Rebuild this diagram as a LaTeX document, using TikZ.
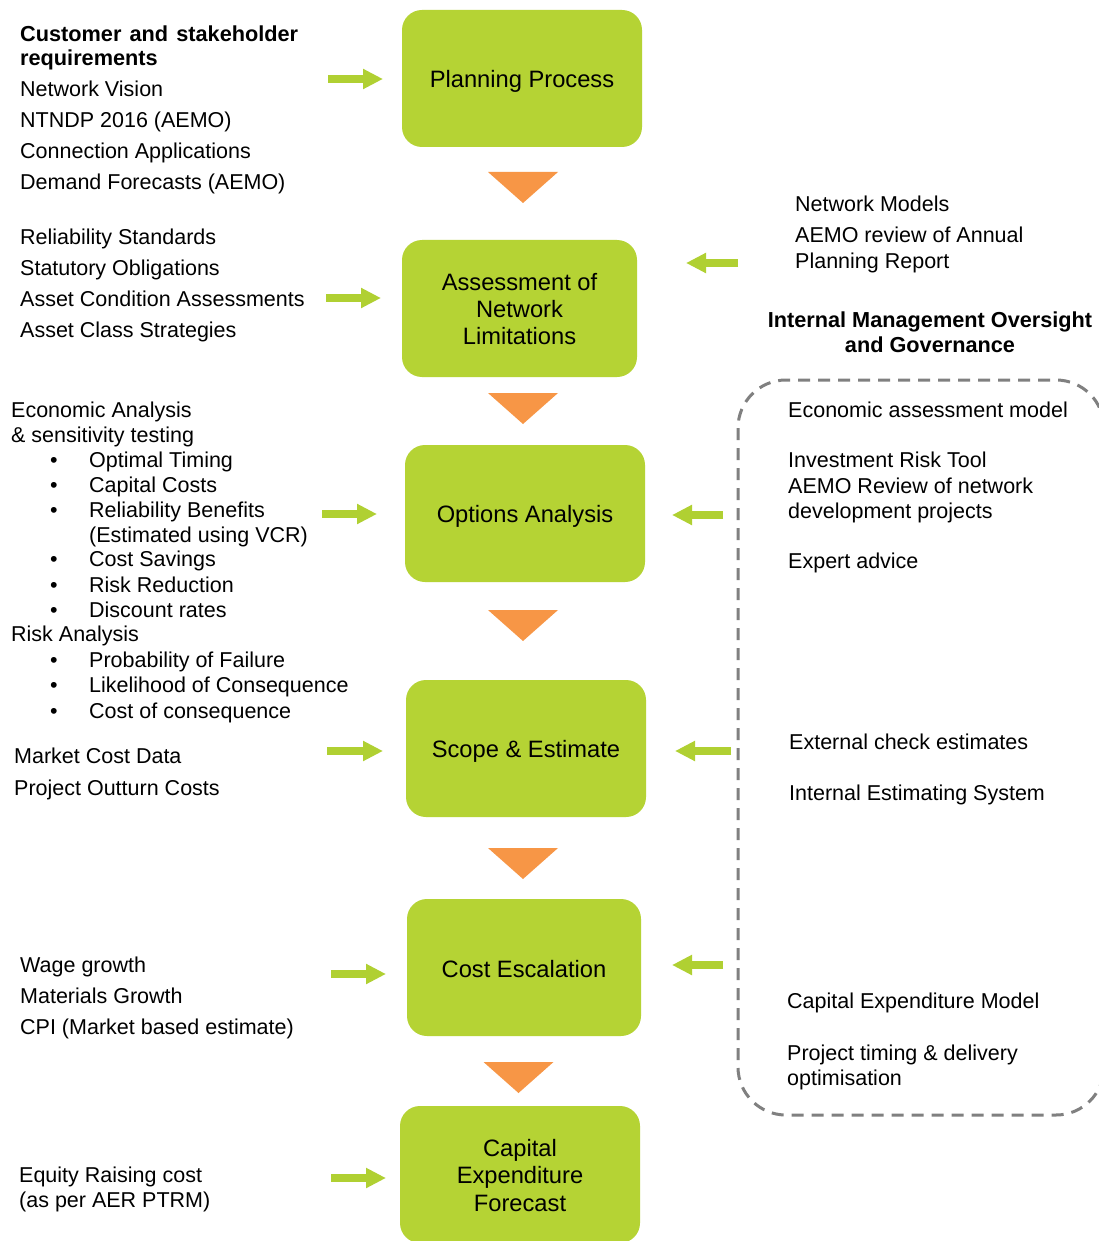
\documentclass[tikz,border=0pt]{standalone}
\usepackage{fontspec}
\setmainfont{Liberation Sans}
\usetikzlibrary{arrows.meta}
\definecolor{boxgreen}{RGB}{181,211,52}
\definecolor{arrgreen}{RGB}{176,208,50}
\definecolor{triorange}{RGB}{247,150,70}
\definecolor{dashgray}{RGB}{128,128,128}
\newcommand{\lowerby}[2]{\raisebox{-#1}[\height][\depth]{#2}}
\begin{document}
\begin{tikzpicture}[x=1pt,y=-1pt,
  lbl/.style={anchor=base west, inner sep=0pt, font=\fontsize{21.5}{25}\selectfont},
  hdr/.style={anchor=base west, inner sep=0pt, font=\fontsize{21.7}{25}\selectfont\bfseries},
  procbox/.style={rounded corners=20pt, fill=boxgreen, minimum height=137pt, align=center, inner sep=0pt, font=\fontsize{23.7}{27.3}\selectfont},
  flowarrow/.style={draw=arrgreen, line width=8pt, -{Triangle[length=20pt 0 1,width=19pt 0 1]}},
  downtri/.style={fill=triorange},
  govbox/.style={draw=dashgray, line width=3pt, dash pattern=on 12pt off 8pt, rounded corners=48pt}
]
\fill[white] (0,0) rectangle (1099,1241);
\useasboundingbox (0,0) rectangle (1099,1241);
\clip (0,0) rectangle (1099,1241);

% process boxes
\node[procbox, minimum width=240pt] (pp) at (522,78.5) {\lowerby{3pt}{Planning Process}};
\node[procbox, minimum width=235pt] (an) at (519.5,308.5) {\lowerby{3.5pt}{\begin{tabular}{@{}c@{}}Assessment of\\Network\\Limitations\end{tabular}}};
\node[procbox, minimum width=240pt] (oa) at (525,513.5) {\lowerby{3pt}{Options Analysis}};
\node[procbox, minimum width=240pt] (se) at (526,748.5) {\lowerby{3pt}{Scope \& Estimate}};
\node[procbox, minimum width=234pt] (ce) at (524,967.5) {\lowerby{2pt}{Cost Escalation}};
\node[procbox, minimum width=240pt] (cf) at (520,1174.5) {\lowerby{4pt}{\begin{tabular}{@{}c@{}}Capital\\Expenditure\\Forecast\end{tabular}}};

% down triangles
\foreach \n/\x/\y in {t1/523/172, t2/523/393, t3/523/610, t4/523/848, t5/518.5/1062}{
  \coordinate (\n) at (\x,\y);
  \fill[downtri] (\n) ++(-35,0) -- ++(70,0) -- ++(-35,31) -- cycle;
}

% governance dashed box
\draw[govbox] (738,380) rectangle (1104,1115);

% input arrows (right)
\coordinate (a1s) at (328,79);  \coordinate (a1e) at (383,79);
\coordinate (a2s) at (326,298); \coordinate (a2e) at (381,298);
\coordinate (a3s) at (322,514); \coordinate (a3e) at (377,514);
\coordinate (a4s) at (327,751); \coordinate (a4e) at (383,751);
\coordinate (a5s) at (331,974); \coordinate (a5e) at (386,974);
\coordinate (a6s) at (331,1178); \coordinate (a6e) at (386,1178);
\foreach \i in {1,...,6}{ \draw[flowarrow] (a\i s) -- (a\i e); }

% input arrows (left)
\coordinate (b1s) at (738,263); \coordinate (b1e) at (686,263);
\coordinate (b2s) at (723,515); \coordinate (b2e) at (672,515);
\coordinate (b3s) at (731,751); \coordinate (b3e) at (675,751);
\coordinate (b4s) at (723,965); \coordinate (b4e) at (672,965);
\foreach \i in {1,...,4}{ \draw[flowarrow] (b\i s) -- (b\i e); }

% left column
\node[hdr] (h1) at (20,42) {\makebox[278pt][s]{Customer and stakeholder}};
\node[hdr] (h2) at (20,66) {requirements};
\node[lbl] (l1) at (20,97) {Network Vision};
\node[lbl] (l2) at (20,128) {NTNDP 2016 (AEMO)};
\node[lbl] (l3) at (20,159) {Connection Applications};
\node[lbl] (l4) at (20,190) {Demand Forecasts (AEMO)};
\node[lbl] (l5) at (20,244) {Reliability Standards};
\node[lbl] (l6) at (20,275) {Statutory Obligations};
\node[lbl] (l7) at (20,306) {Asset Condition Assessments};
\node[lbl] (l8) at (20,337) {Asset Class Strategies};

\node[lbl] (e1) at (11,417) {Economic Analysis};
\node[lbl] (e2) at (11,442) {\& sensitivity testing};
\foreach \n/\y/\t in {e3/467/Optimal Timing, e4/492/Capital Costs, e5/517/Reliability Benefits, e7/566/Cost Savings, e8/592/Risk Reduction, e9/617/Discount rates, r2/667/Probability of Failure, r3/692/Likelihood of Consequence, r4/718/Cost of consequence}{
  \node[lbl] (\n b) at (50,\y) {•};
  \node[lbl] (\n) at (89,\y) {\t};
}
\node[lbl] (e6) at (89,542) {(Estimated using VCR)};
\node[lbl] (r1) at (11,641) {Risk Analysis};

\node[lbl] (m1) at (14,763) {Market Cost Data};
\node[lbl] (m2) at (14,795) {Project Outturn Costs};

\node[lbl] (w1) at (20,972) {Wage growth};
\node[lbl] (w2) at (20,1003) {Materials Growth};
\node[lbl] (w3) at (20,1034) {CPI (Market based estimate)};

\node[lbl] (q1) at (19,1182) {Equity Raising cost};
\node[lbl] (q2) at (19,1207) {(as per AER PTRM)};

% right column
\node[lbl] (n1) at (795,212) {Network Models};
\node[lbl] (n2) at (795,243) {AEMO review of Annual};
\node[lbl] (n3) at (795,268) {Planning Report};
\node[hdr, anchor=base] (g1) at (930,327) {Internal Management Oversight};
\node[hdr, anchor=base] (g2) at (930,352) {and Governance};

\node[lbl] (k1) at (788,417) {Economic assessment model};
\node[lbl] (k2) at (788,467) {Investment Risk Tool};
\node[lbl] (k3) at (788,493) {AEMO Review of network};
\node[lbl] (k4) at (788,518) {development projects};
\node[lbl] (k5) at (788,568) {Expert advice};
\node[lbl] (k6) at (789,749) {External check estimates};
\node[lbl] (k7) at (789,800) {Internal Estimating System};
\node[lbl] (k8) at (787,1008) {Capital Expenditure Model};
\node[lbl] (k9) at (787,1060) {Project timing \& delivery};
\node[lbl] (k10) at (787,1085) {optimisation};
\end{tikzpicture}
\end{document}
